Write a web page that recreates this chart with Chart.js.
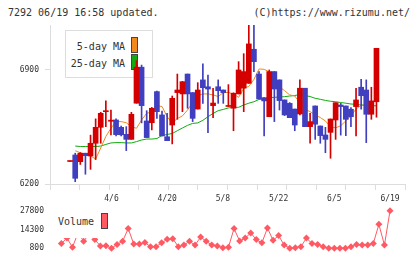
<!DOCTYPE html>
<html><head><meta charset="utf-8">
<script src="https://cdn.jsdelivr.net/npm/chart.js@4/dist/chart.umd.min.js"></script>
<style>
html,body{margin:0;padding:0;background:#fff;width:420px;height:259px;overflow:hidden;}
body{position:relative;font-family:"DejaVu Sans Mono",monospace;color:#333;}
canvas{position:absolute;left:0;}
#main{top:0;z-index:2;}
#vol{top:200px;z-index:2;}
.t{position:absolute;font-size:10px;line-height:12px;white-space:pre;}
#leg1{position:absolute;left:65px;top:30px;width:86px;height:46px;border:1px solid #ddd;background:#fff;z-index:1;}
#leg2{position:absolute;left:55px;top:208px;width:56px;height:30px;background:#fff;z-index:3;}
.sw{position:absolute;width:5px;height:14px;border:1px solid #444;}
</style></head><body>
<div class="t" style="left:8px;top:7px">7292 06/19 16:58 updated.</div>
<div class="t" style="right:10px;top:7px">(C)https://www.rizumu.net/</div>
<div id="leg1">
  <div class="t" style="left:0;width:59px;text-align:right;top:10px">5-day MA</div>
  <div class="sw" style="left:65px;top:6px;background:#f08a1c"></div>
  <div class="t" style="left:0;width:59px;text-align:right;top:27px">25-day MA</div>
  <div class="sw" style="left:65px;top:23px;background:#11aa11"></div>
</div>
<div id="leg2">
  <div class="t" style="left:3px;top:8px">Volume</div>
  <div class="sw" style="left:46px;top:5px;background:#ff5a64"></div>
</div>
<canvas id="main" width="420" height="205" style="width:420px;height:205px"></canvas>
<canvas id="vol" width="420" height="59" style="width:420px;height:59px"></canvas>
<script>
// ---- data (index 0 = 3/23 ... index 60 = 6/19) ----
const openP  = [6338,6378,6337,6389,6372,6450,6548,6644,6585,6593,6548,6505,6474,6696,6917,6587,6576,6767,6624,6490,6562,6761,6753,6875,6761,6660,6839,6797,6681,6797,6777,6676,6665,6753,6788,6818,7027,6875,6730,6613,6890,6839,6716,6695,6660,6630,6788,6552,6679,6556,6501,6517,6593,6685,6679,6659,6675,6794,6777,6628,6705];
const highP  = [6341,6389,6393,6389,6500,6600,6640,6710,6654,6600,6555,6552,6640,6957,6930,6650,6670,6770,6648,6634,6740,6875,6830,6875,6761,6822,6937,6869,6788,6839,6777,6810,6760,6951,7000,7176,7176,6890,6730,6900,6890,6839,6716,6700,6660,6839,6788,6634,6679,6556,6548,6599,6699,6695,6679,6669,6788,6843,6839,6794,7033];
const lowP   = [6338,6214,6320,6260,6290,6350,6450,6552,6501,6495,6495,6405,6474,6696,6575,6485,6532,6603,6495,6466,6446,6597,6644,6665,6583,6660,6695,6515,6607,6695,6695,6676,6527,6753,6644,6818,6890,6722,6495,6613,6583,6654,6620,6607,6527,6624,6552,6450,6474,6450,6392,6358,6474,6500,6497,6552,6495,6660,6454,6597,6610];
const closeP = [6341,6235,6389,6374,6450,6548,6634,6650,6592,6503,6502,6474,6628,6917,6681,6485,6665,6644,6495,6466,6726,6777,6828,6753,6603,6777,6791,6783,6697,6773,6761,6680,6757,6900,6890,7060,6951,6722,6710,6890,6783,6712,6624,6607,6562,6788,6552,6583,6567,6497,6474,6599,6699,6675,6597,6613,6716,6742,6628,6710,7033];
const ma5    = [null,6404,6392,6382,6372,6354,6421,6492,6542,6583,6583,6576,6552,6542,6593,6634,6642,6679,6676,6613,6575,6602,6618,6654,6700,6743,6753,6753,6747,6737,6761,6762,6753,6732,6788,6799,6842,6906,6904,6888,6836,6797,6773,6747,6740,6699,6659,6644,6624,6608,6587,6551,6545,6557,6588,6618,6661,6683,6685,6700,6716];
const ma25   = [null,6433,6430,6430,6430,6430,6433,6443,6452,6454,6454,6452,6452,6460,6470,6476,6476,6479,6498,6504,6510,6527,6544,6560,6572,6575,6591,6613,6633,6650,6658,6667,6670,6671,6685,6696,6705,6719,6722,6730,6732,6734,6736,6740,6743,6750,6743,6737,6726,6720,6713,6708,6705,6700,6696,6691,6689,6685,6684,6681,6680];
const volume = [null,4200,8100,1500,12000,5800,11000,7000,2400,2600,800,3550,5800,15000,3750,3750,4900,1900,1900,4650,7200,7700,1900,3050,5800,3050,8800,5800,3050,2400,1200,1500,15000,6000,8100,11800,7000,4650,15400,6500,9900,3050,800,1200,1900,8100,4200,3550,1900,800,800,800,800,1900,3550,3050,3050,4200,18000,3050,27800];
const dateLabels = ['4/6','4/20','5/8','5/22','6/5','6/19'];
const dateIndex  = [10,20,30,40,50,60];
const priceTicks = [6200,6900];
const volTicks   = [800,14300,27800];

const RED='#d40000', BLUE='#3f3fbf', ORANGE='#f08a1c', GREEN='#11aa11', VOLC='#ff5a64';
const FONT={family:'"DejaVu Sans Mono", monospace', size:8};
const XMIN=-1.04, XMAX=62.69;

const idx = openP.map((_,i)=>i);
const up = idx.filter(i=>closeP[i]>=openP[i]);
const dn = idx.filter(i=>closeP[i]<openP[i]);
const wick = (list,c)=>({type:'bar',order:1,grouped:false,barThickness:1,backgroundColor:c,
  data:list.map(i=>({x:i,y:[lowP[i],highP[i]]}))});
const body = (list,c)=>({type:'bar',order:0,grouped:false,barThickness:5,minBarLength:1,backgroundColor:c,
  data:list.map(i=>({x:i,y:[Math.min(openP[i],closeP[i]),Math.max(openP[i],closeP[i])]}))});
const maLine = (arr,c)=>({type:'line',order:3,borderColor:c,borderWidth:1,pointRadius:0,tension:0,
  data:idx.filter(i=>arr[i]!==null).map(i=>({x:i,y:arr[i]}))});

new Chart(document.getElementById('main'),{
  data:{datasets:[wick(up,RED),wick(dn,BLUE),body(up,RED),body(dn,BLUE),maLine(ma5,ORANGE),maLine(ma25,GREEN)]},
  options:{
    responsive:false,animation:false,devicePixelRatio:1,
    layout:{padding:{top:25,right:15,left:0,bottom:0}},
    plugins:{legend:{display:false},tooltip:{enabled:false}},
    scales:{
      x:{type:'linear',min:XMIN,max:XMAX,position:'bottom',
        afterBuildTicks:s=>{const t=[];for(let k=0;k<=11;k++)t.push({value:XMIN+k*(XMAX-XMIN)/11});s.ticks=t;},
        afterFit:s=>{s.height=6;},
        ticks:{display:false},
        grid:{drawOnChartArea:false,color:'#ddd',tickLength:6},
        border:{color:'#ddd'}},
      x2:{type:'linear',min:XMIN,max:XMAX,position:'bottom',
        afterBuildTicks:s=>{s.ticks=dateIndex.map(v=>({value:v}));},
        afterFit:s=>{s.height=15;},
        ticks:{autoSkip:false,maxRotation:0,font:FONT,color:'#333',padding:4,
          callback:v=>dateLabels[dateIndex.indexOf(v)]},
        grid:{display:false,drawTicks:false},border:{display:false}},
      y:{type:'linear',min:6200,max:7176,
        afterBuildTicks:s=>{s.ticks=priceTicks.map(v=>({value:v}));},
        afterFit:s=>{s.width=50;},
        ticks:{font:FONT,color:'#333',padding:6,callback:v=>String(v)},
        grid:{drawOnChartArea:false,color:'#ddd',tickLength:5},
        border:{color:'#ddd'}}
    }
  }
});

new Chart(document.getElementById('vol'),{
  type:'line',
  data:{datasets:[{borderColor:VOLC,backgroundColor:VOLC,borderWidth:1,pointStyle:'rectRot',
    pointRadius:3.5,pointBorderWidth:0,pointBackgroundColor:VOLC,clip:false,tension:0,
    data:idx.filter(i=>volume[i]!==null).map(i=>({x:i,y:volume[i]}))}]},
  options:{
    responsive:false,animation:false,devicePixelRatio:1,
    layout:{padding:{top:9,right:15,left:0,bottom:10.7}},
    plugins:{legend:{display:false},tooltip:{enabled:false}},
    scales:{
      x:{type:'linear',min:XMIN,max:XMAX,display:false},
      y:{type:'linear',min:800,max:27800,
        afterBuildTicks:s=>{s.ticks=volTicks.map(v=>({value:v}));},
        afterFit:s=>{s.width=50;},
        ticks:{font:FONT,color:'#333',padding:6,callback:v=>String(v)},
        grid:{display:false,drawTicks:false},border:{display:false}}
    }
  }
});
</script>
</body></html>
